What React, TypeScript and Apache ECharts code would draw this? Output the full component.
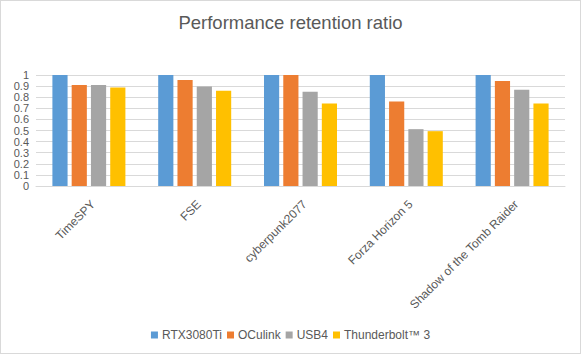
import React, { useEffect, useRef } from "react";
import * as echarts from "echarts";

const categories = ["TimeSPY", "FSE", "cyberpunk2077", "Forza Horizon 5", "Shadow of the Tomb Raider"];
const seriesNames = ["RTX3080Ti", "OCulink", "USB4", "Thunderbolt™ 3"];
const rtx3080Ti = [1, 1, 1, 1, 1];
const oculink = [0.91, 0.956, 1, 0.761, 0.947];
const usb4 = [0.91, 0.896, 0.849, 0.512, 0.867];
const thunderbolt3 = [0.887, 0.858, 0.743, 0.494, 0.743];
const colors = ["#5B9BD5", "#ED7D31", "#A5A5A5", "#FFC000"];
const yTicks = { min: 0, max: 1, interval: 0.1 };

export default function App() {
  const ref = useRef<HTMLDivElement>(null);
  useEffect(() => {
    document.body.style.margin = "0";
    const chart = echarts.init(ref.current!, undefined, { renderer: "svg" });
    const data = [rtx3080Ti, oculink, usb4, thunderbolt3];
    const font = "Liberation Sans, Arial, sans-serif";
    chart.setOption({
      animation: false,
      backgroundColor: "#ffffff",
      color: colors,
      textStyle: { fontFamily: font },
      title: {
        text: "Performance retention ratio",
        left: "center",
        top: 7,
        textStyle: { fontSize: 18.5, fontWeight: "normal", color: "#595959", fontFamily: font },
      },
      legend: {
        bottom: 7,
        left: "center",
        icon: "rect",
        itemWidth: 7,
        itemHeight: 7,
        itemGap: 5,
        textStyle: { fontSize: 12, color: "#595959", padding: [0, 0, 0, -1], fontFamily: font },
        data: seriesNames,
      },
      grid: { left: 35, right: 15, top: 74, bottom: 167, containLabel: false },
      xAxis: {
        type: "category",
        data: categories,
        axisLine: { lineStyle: { color: "#d9d9d9" } },
        axisTick: { show: false },
        axisLabel: {
          rotate: 45,
          color: "#595959",
          fontSize: 12,
          margin: 12,
          interval: 0,
          verticalAlign: "top",
          fontFamily: font,
        },
      },
      yAxis: {
        type: "value",
        min: yTicks.min,
        max: yTicks.max,
        interval: yTicks.interval,
        axisLine: { show: false },
        axisTick: { show: false },
        axisLabel: {
          color: "#595959",
          fontSize: 11,
          margin: 7,
          showMinLabel: true,
          showMaxLabel: true,
          fontFamily: font,
        },
        splitLine: { lineStyle: { color: "#d9d9d9" } },
      },
      series: seriesNames.map((name, i) => ({
        name,
        type: "bar",
        data: data[i],
        barGap: "27%",
        barCategoryGap: "31%",
        itemStyle: { color: colors[i] },
      })),
    });
    return () => chart.dispose();
  }, []);
  return (
    <div style={{ width: 581, height: 354, boxSizing: "border-box", border: "1px solid #d9d9d9", position: "relative" }}>
      <div ref={ref} style={{ width: 579, height: 352 }} />
    </div>
  );
}
